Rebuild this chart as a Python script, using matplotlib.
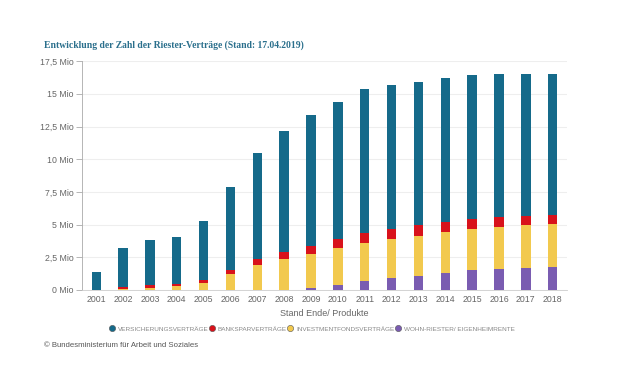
import numpy as np
import matplotlib.pyplot as plt
from matplotlib.lines import Line2D

years = [str(y) for y in range(2001, 2019)]
# values in Mio
versicherung = [1.35, 2.98, 3.47, 3.57, 4.49, 6.40, 8.16, 9.26, 9.98, 10.43,
                11.00, 10.99, 10.99, 11.02, 10.97, 10.91, 10.87, 10.82]
banksparen = [0.0, 0.16, 0.18, 0.18, 0.25, 0.31, 0.46, 0.56, 0.61, 0.72,
              0.76, 0.79, 0.82, 0.79, 0.79, 0.74, 0.72, 0.66]
investment = [0.0, 0.10, 0.18, 0.28, 0.54, 1.20, 1.89, 2.33, 2.65, 2.85,
              2.94, 2.96, 3.03, 3.11, 3.16, 3.22, 3.26, 3.32]
wohnriester = [0.0, 0.0, 0.0, 0.0, 0.0, 0.0, 0.0, 0.02, 0.13, 0.36,
               0.66, 0.92, 1.10, 1.30, 1.51, 1.63, 1.71, 1.76]

series = [
    ("WOHN-RIESTER/ EIGENHEIMRENTE", wohnriester, "#7a5cb1"),
    ("INVESTMENTFONDSVERTRÄGE", investment, "#f2c94e"),
    ("BANKSPARVERTRÄGE", banksparen, "#d8121b"),
    ("VERSICHERUNGSVERTRÄGE", versicherung, "#156a8a"),
]
yticks = [0, 2.5, 5, 7.5, 10, 12.5, 15, 17.5]
ylabels = ["0 Mio", "2,5 Mio", "5 Mio", "7,5 Mio", "10 Mio", "12,5 Mio", "15 Mio", "17,5 Mio"]

plt.rcParams['font.family'] = ['Liberation Sans', 'DejaVu Sans']
grey = "#666666"

fig = plt.figure(figsize=(6.21, 3.83), dpi=100)
ax = fig.add_axes([0.132, 0.243, 0.781, 0.597])

x = np.arange(len(years))
bottom = np.zeros(len(years))
for name, vals, col in series:
    ax.bar(x, vals, bottom=bottom, width=0.35, color=col, zorder=3)
    bottom += np.array(vals)

ax.set_xlim(-0.53, 17.53)
ax.set_ylim(0, 17.5)
ax.set_xticks(x)
ax.set_xticklabels(years, fontsize=6.3, color=grey)
ax.set_yticks(yticks)
ax.set_yticklabels(ylabels, fontsize=6.3, color=grey)
ax.tick_params(axis="x", length=0, pad=4)
ax.tick_params(axis="y", length=4, width=0.6, color="#aaaaaa", pad=2)
ax.grid(axis="y", color="#eeeeee", linewidth=0.8, zorder=0)
for s in ["top", "right"]:
    ax.spines[s].set_visible(False)
ax.spines["left"].set_color("#aaaaaa")
ax.spines["bottom"].set_color("#cccccc")
ax.spines["left"].set_linewidth(0.6)
ax.spines["bottom"].set_linewidth(0.6)
ax.set_xlabel("Stand Ende/ Produkte", fontsize=6.5, color=grey, labelpad=3)

handles = [Line2D([], [], marker="o", linestyle="", markersize=4.5,
                  markerfacecolor=col, markeredgecolor="#555555", markeredgewidth=0.4)
           for name, vals, col in series[::-1]]
labels = [name for name, vals, col in series[::-1]]
leg = fig.legend(handles, labels, loc="center", bbox_to_anchor=(0.502, 0.141), ncol=4,
                 frameon=False, fontsize=4.6, handletextpad=0.45, columnspacing=0.0,
                 handlelength=1.0)
for t in leg.get_texts():
    t.set_color("#888888")

fig.text(0.071, 0.883, "Entwicklung der Zahl der Riester-Verträge (Stand: 17.04.2019)",
         fontsize=6.9, fontweight="bold", color="#2a6f8c", family="Liberation Serif",
         va="center")
fig.text(0.071, 0.099, "© Bundesministerium für Arbeit und Soziales",
         fontsize=5.6, color="#555555", va="center")

fig.savefig("out.png", dpi=100)
